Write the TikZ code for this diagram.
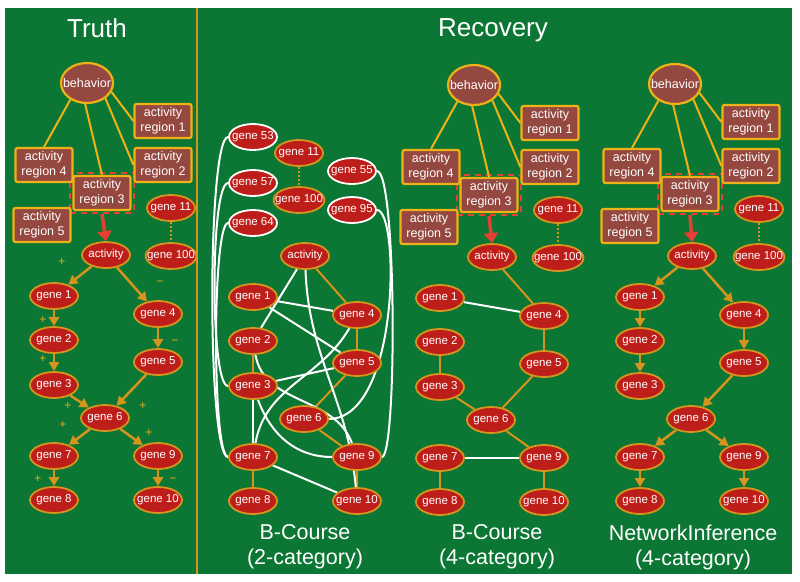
\documentclass[tikz,border=0pt]{standalone}
\usepackage{fontspec}
\setmainfont{Liberation Sans}
\usetikzlibrary{shapes.geometric, arrows.meta, fit, positioning}

\definecolor{bggreen}{RGB}{12,118,52}
\definecolor{boxgold}{RGB}{238,178,24}
\definecolor{genegold}{RGB}{212,148,30}
\definecolor{genered}{RGB}{190,30,25}
\definecolor{boxbrown}{RGB}{148,72,64}
\definecolor{hlred}{RGB}{232,62,52}
\definecolor{signgold}{RGB}{228,172,40}

\newcommand{\genefont}{\fontsize{11.5}{13}\selectfont}
\newcommand{\boxfont}{\fontsize{12.5}{15.5}\selectfont}
\newcommand{\headfont}{\fontsize{26}{30}\selectfont}
\newcommand{\capfont}{\fontsize{21.5}{25}\selectfont}
\newcommand{\signfont}{\fontsize{12}{13}\selectfont}

\pgfdeclarelayer{back}
\pgfdeclarelayer{edges}
\pgfsetlayers{back,edges,main}

% activity and gene 1..10, placed round the activity node
\newcommand{\genenet}[3]{%
  \begin{scope}[shift={(#2,#3)}]
    \node[gene] (#1act) at (0,0) {activity};
    \foreach \n/\x/\y in {1/-52/41, 2/-52/85, 3/-52/130, 4/52/59, 5/52/107,
                          6/-1/163, 7/-52/201, 8/-52/245, 9/52/201, 10/52/245}
      \node[gene] (#1g\n) at (\x,\y) {gene \n};
  \end{scope}}

% behavior, activity regions, gene 11 and gene 100
\newcommand{\topnet}[3]{%
  \begin{scope}[shift={(#2,#3)}]
    \node[behav] (#1b) at (0,0) {behavior};
    \node[region] (#1r1) at (76,38) {activity\\region 1};
    \node[region] (#1r4) at (-43,82) {activity\\region 4};
    \node[region] (#1r2) at (76,82) {activity\\region 2};
    \node[region] (#1r3) at (15,110) {activity\\region 3};
    \node[region] (#1r5) at (-45,142) {activity\\region 5};
    \node[gene] (#1g11) at (84,125) {gene 11};
    \node[gene] (#1g100) at (84,173) {gene 100};
  \end{scope}
  \begin{pgfonlayer}{edges}
    \node[hlbox, fit=(#1r3)] (#1hl) {};
    \draw[blink] (#1b.-20) -- (#1r1.west);
    \draw[blink] (#1b.-40) -- (#1r2.west);
    \draw[blink] (#1b.-95) -- (#1r3.north);
    \draw[blink] (#1b.-135) -- (#1r4.north);
    \draw[dotline] (#1g11) -- (#1g100);
    \draw[redarrow] (#1hl.south) -- (#1act.north);
  \end{pgfonlayer}}

\begin{document}
\begin{tikzpicture}[
  x=1pt, y=-1pt,
  gene/.style={ellipse, draw=genegold, fill=genered, line width=1.8pt, minimum width=48pt, minimum height=26pt, inner xsep=-6pt, inner ysep=0pt, text=white, font=\genefont},
  wgene/.style={gene, draw=white},
  region/.style={rectangle, rounded corners=2pt, draw=boxgold, fill=boxbrown, line width=2.2pt, minimum width=57pt, minimum height=34pt, inner sep=0pt, align=center, text=white, font=\boxfont},
  behav/.style={ellipse, draw=boxgold, fill=boxbrown, line width=2.2pt, minimum width=52pt, minimum height=40pt, inner xsep=-7pt, inner ysep=0pt, text=white, font=\boxfont},
  hlbox/.style={rectangle, draw=hlred, dash pattern=on 6pt off 5pt, line width=2pt, inner sep=2pt},
  blink/.style={draw=boxgold, line width=2pt},
  garrow/.style={draw=genegold, line width=2.5pt, -{Triangle[length=9pt,width=10pt]}},
  gline/.style={draw=genegold, line width=2pt},
  wline/.style={draw=white, line width=2pt},
  dotline/.style={draw=genegold, line width=2pt, dotted},
  redarrow/.style={draw=hlred, line width=3.5pt, -{Triangle[length=10pt,width=14pt]}},
  signtext/.style={text=signgold, font=\signfont, inner sep=0pt},
  headtext/.style={text=white, font=\headfont},
  captext/.style={text=white, font=\capfont, align=center}
]
\useasboundingbox (0,0) rectangle (800,581);
\begin{pgfonlayer}{back}
  \fill[bggreen] (5,8) rectangle (792,574);
  \draw[genegold, line width=2.5pt] (197,8) -- (197,574);
\end{pgfonlayer}

\node[headtext] (truth) at (97,28) {Truth};
\node[headtext] (recovery) at (493,30) {Recovery};

% Truth
\genenet{t}{106}{255}
\topnet{t}{87}{83}
\begin{pgfonlayer}{edges}
  \foreach \a/\b in {act/g1, act/g4, g1/g2, g2/g3, g3/g6, g4/g5, g5/g6, g6/g7, g6/g9, g7/g8, g9/g10}
    \draw[garrow] (t\a) -- (t\b);
\end{pgfonlayer}
\foreach \s/\x/\y [count=\i] in {+/62/262, −/160/283, +/43/320, −/175/342, +/43/359, +/68/406,
                                 +/143/406, +/63/425, +/149/433, +/38/479, −/173/480}
  \node[signtext] (sign\i) at (\x,\y) {\s};

% B-Course (2-category)
\genenet{b}{305}{256}
\node[wgene] (bg53) at (253,137) {gene 53};
\node[gene] (bg11) at (299,153) {gene 11};
\node[wgene] (bg57) at (253,183) {gene 57};
\node[gene] (bg100) at (299,200) {gene 100};
\node[wgene] (bg64) at (253,223) {gene 64};
\node[wgene] (bg55) at (352,171) {gene 55};
\node[wgene] (bg95) at (352,210) {gene 95};
\begin{pgfonlayer}{edges}
  \draw[dotline] (bg11) -- (bg100);
  \foreach \a/\b in {act/g4, g4/g5, g2/g3, g5/g6, g6/g9, g7/g8, g9/g10}
    \draw[gline] (b\a) -- (b\b);
  \foreach \a/\b in {g1/g4, g1/g5, act/g2, g3/g5, g3/g7, g7/g10}
    \draw[wline] (b\a) -- (b\b);
  \draw[wline] (bact) to[out=-88, in=95] (bg10);
  \draw[wline] (bg3) to[out=-70, in=180] (bg9);
  \draw[wline] (bg2) to[out=-80, in=110] (bg9);
  \draw[wline] (bg4) to[out=-120, in=80] (bg7);
  \draw[wline] (bg53.west) .. controls (207,137) and (207,457) .. (bg7.west);
  \draw[wline] (bg57.west) .. controls (210,183) and (210,387) .. (bg3.west);
  \draw[wline] (bg64.west) .. controls (212,223) and (212,457) .. (bg7.west);
  \draw[wline] (bg55.east) .. controls (397,171) and (397,457) .. (bg9.east);
  \draw[wline] (bg95.east) .. controls (400,210) and (400,418) .. (bg6.east);
\end{pgfonlayer}
\node[captext] (cap2) at (305,547) {B-Course\\(2-category)};

% B-Course (4-category)
\genenet{c}{492}{257}
\topnet{c}{474}{85}
\begin{pgfonlayer}{edges}
  \foreach \a/\b in {act/g4, g4/g5, g2/g3, g3/g6, g5/g6, g6/g9, g7/g8, g9/g10}
    \draw[gline] (c\a) -- (c\b);
  \draw[wline] (cg1) -- (cg4);
  \draw[wline] (cg7) -- (cg9);
\end{pgfonlayer}
\node[captext] (cap4) at (497,547) {B-Course\\(4-category)};

% NetworkInference (4-category)
\genenet{n}{692}{256}
\topnet{n}{675}{84}
\begin{pgfonlayer}{edges}
  \foreach \a/\b in {act/g1, act/g4, g1/g2, g2/g3, g4/g5, g5/g6, g6/g7, g6/g9, g7/g8, g9/g10}
    \draw[garrow] (n\a) -- (n\b);
\end{pgfonlayer}
\node[captext] (capni) at (693,547) {NetworkInference\\(4-category)};
\end{tikzpicture}
\end{document}
